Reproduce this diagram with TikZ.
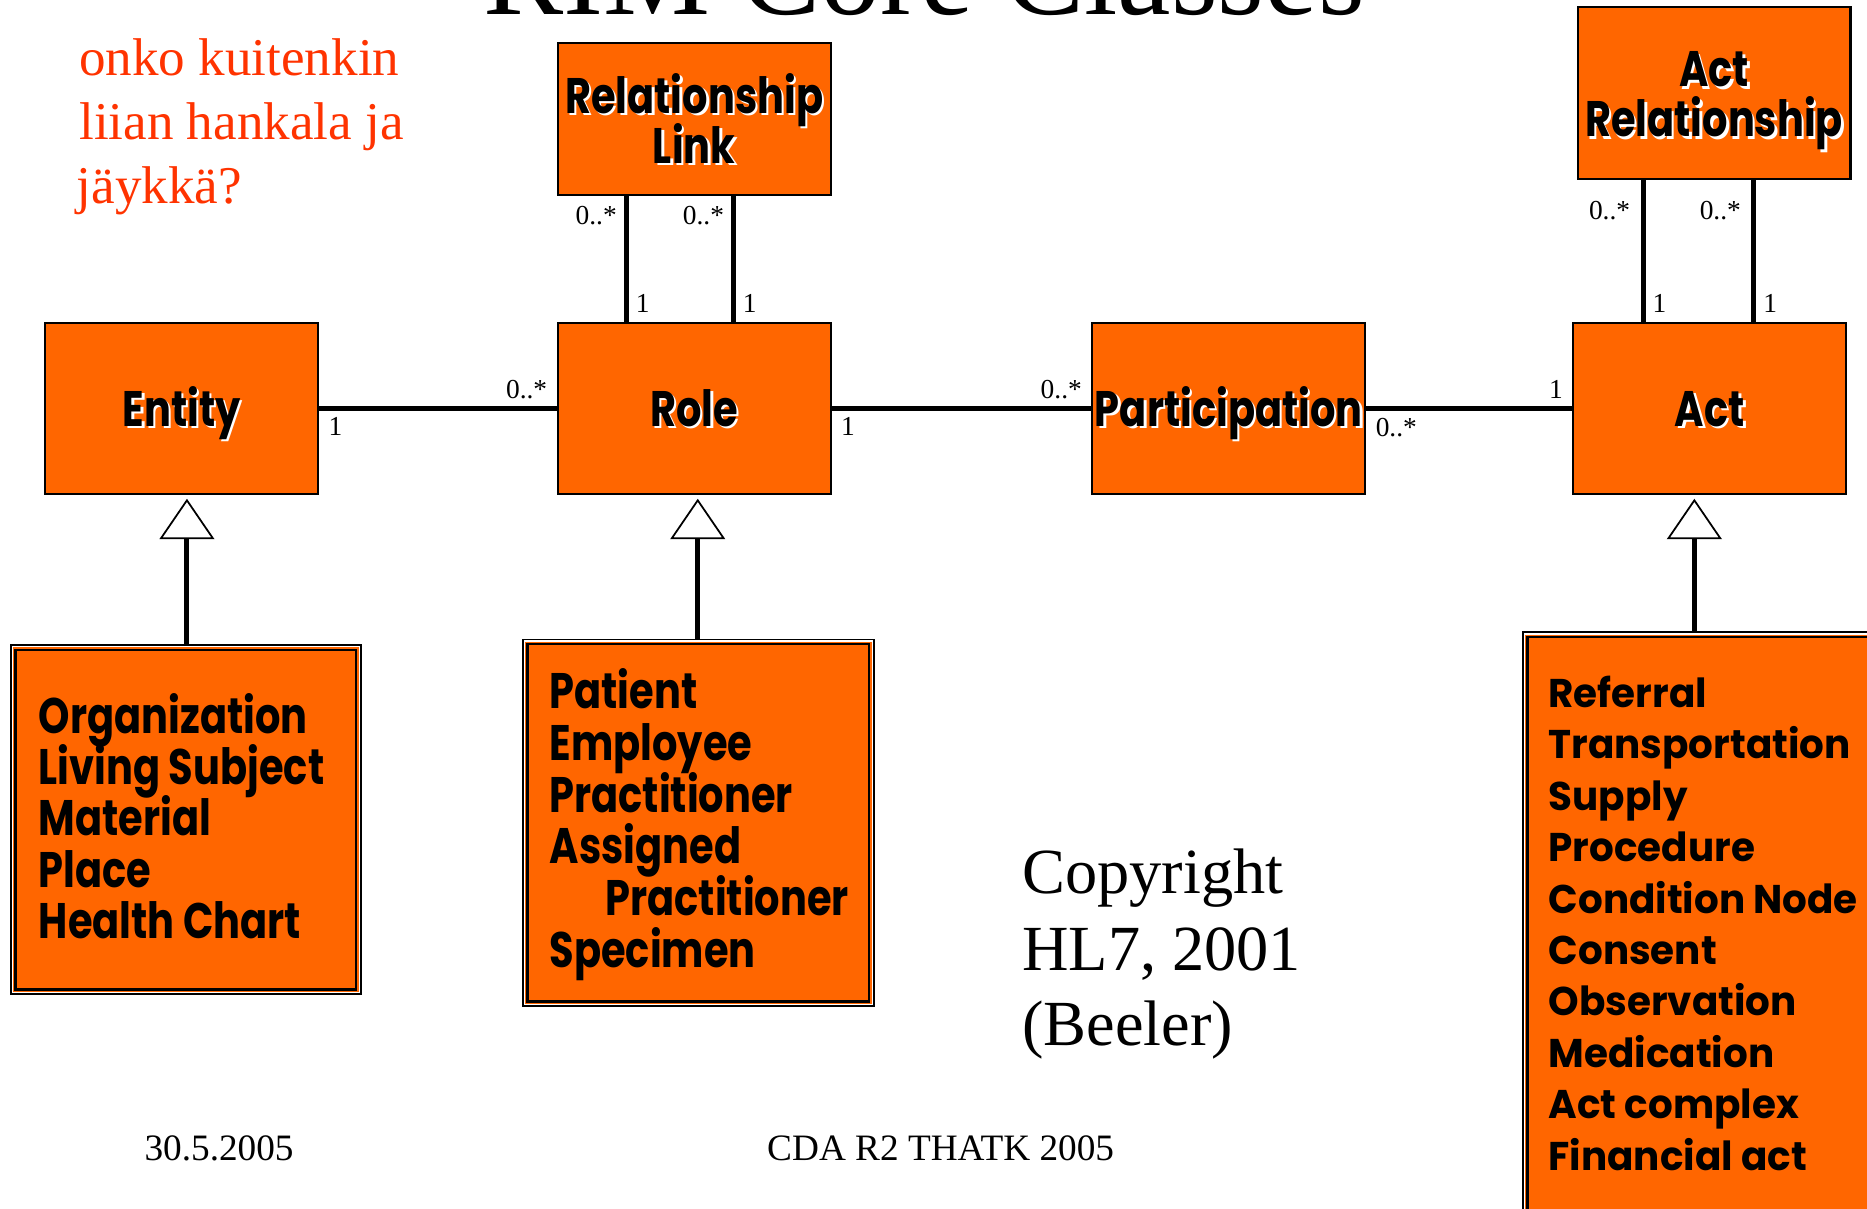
\documentclass[tikz,border=0pt]{standalone}
\usepackage{fontspec}
\setmainfont{Liberation Serif}
\newfontfamily\cartoonfont{Poppins}[FakeStretch=0.8]
\newfontfamily\cartoonwide{Poppins}[FakeStretch=0.97]
\usetikzlibrary{arrows.meta}
\definecolor{hlorange}{HTML}{FF6600}
\definecolor{notered}{HTML}{FF3300}
% text with a small white drop shadow
\newcommand\shadowed[1]{\makebox[0pt][l]{\hspace{0.7pt}\raisebox{-0.7pt}{\color{white}#1}}#1}
% inner white and black frame of a subclass box
\newcommand\innerframe[1]{%
  \draw[white,line width=0.4pt] ([shift={(0.7pt,-0.7pt)}]#1.north west) rectangle ([shift={(-0.7pt,0.7pt)}]#1.south east);
  \draw[black,line width=0.7pt] ([shift={(1.6pt,-1.6pt)}]#1.north west) rectangle ([shift={(-1.6pt,1.6pt)}]#1.south east);}

\begin{document}
\begin{tikzpicture}[x=0.011907cm, y=-0.011907cm,
  classbox/.style={draw=black, line width=0.6pt, fill=hlorange, inner sep=0pt,
    minimum width=77.6pt, minimum height=48.8pt},
  classname/.style={inner sep=0pt, font=\cartoonfont\bfseries\fontsize{14.2}{14.2}\selectfont},
  subbox/.style={draw=black, line width=0.5pt, fill=hlorange, inner sep=0pt},
  listitem/.style={anchor=base west, inner sep=0pt,
    font=\cartoonfont\bfseries\fontsize{14.2}{14.6}\selectfont},
  widelist/.style={anchor=base west, inner sep=0pt,
    font=\cartoonwide\bfseries\fontsize{11.4}{14.6}\selectfont},
  assoc/.style={line width=1.4pt},
  mult/.style={font=\fontsize{7.8}{8}\selectfont, inner sep=2pt},
  gen/.style={line width=1.4pt, shorten >=1pt,
    -{Triangle[fill=white, line width=0.5pt, length=11.5pt, width=15.6pt]}},
  serifnote/.style={anchor=base west, inner sep=0pt},
]
\useasboundingbox (0,0) rectangle (1568,1015);
\clip (0,0) rectangle (1568,1015);

% heading (runs off the top edge)
\node[anchor=base, inner sep=0pt, font=\fontsize{34.2}{40}\selectfont] (title) at (776,12) {RIM Core Classes};

% remark in red
\begin{scope}[every node/.style={serifnote, text=notered, font=\fontsize{15.1}{18}\selectfont}]
  \node (note1) at (66,63) {onko kuitenkin};
  \node (note2) at (66,117) {liian hankala ja};
  \node (note3) at (64,171) {jäykkä?};
\end{scope}

% core classes
\node[classbox] (entity) at (152.5,343) {};
\node[classbox] (role) at (583,343) {};
\node[classbox] (part) at (1032,343) {};
\node[classbox] (act) at (1436,343) {};
\node[classbox, minimum height=43.4pt] (rellink) at (583,100) {};
\node[classbox] (actrel) at (1439.5,78) {};

\begin{scope}[every node/.style={classname, anchor=base}]
  \node (entityname) at (152.5,358) {\shadowed{Entity}};
  \node (rolename) at (583,358) {\shadowed{Role}};
  \node (partname) at (1032,358) {\shadowed{Participation}};
  \node (actname) at (1436,358) {\shadowed{Act}};
  \node (rellinkname1) at (583,95) {\shadowed{Relationship}};
  \node (rellinkname2) at (583,137) {\shadowed{Link}};
  \node (actrelname1) at (1439.5,73) {\shadowed{Act}};
  \node (actrelname2) at (1439.5,115) {\shadowed{Relationship}};
\end{scope}

% associations
\draw[assoc] (entity.east) -- node[mult, pos=0, anchor=north west] (m1) {1}
  node[mult, pos=1, anchor=south east] (m2) {0..*} (role.west);
\draw[assoc] (role.east) -- node[mult, pos=0, anchor=north west] (m3) {1}
  node[mult, pos=1, anchor=south east] (m4) {0..*} (part.west);
\draw[assoc] (part.east) -- node[mult, pos=0, anchor=north west] (m5) {0..*}
  node[mult, pos=1, anchor=south east] (m6) {1} (act.west);

\foreach \lx/\k in {526/a, 616/b}{
  \draw[assoc] (rellink.south -| \lx,0) -- node[mult, pos=0, anchor=north east] (rl\k top) {0..*}
    node[mult, pos=1, anchor=south west] (rl\k bot) {1} (role.north -| \lx,0);
}
\foreach \lx/\k in {1380/a, 1473/b}{
  \draw[assoc] (actrel.south -| \lx,0) -- node[mult, pos=0, anchor=north east, yshift=-3.5pt, xshift=-1pt] (ar\k top) {0..*}
    node[mult, pos=1, anchor=south west] (ar\k bot) {1} (act.north -| \lx,0);
}

% specialisation boxes
\node[subbox, minimum width=99.6pt, minimum height=99.3pt] (entsub) at (156,688.5) {};
\innerframe{entsub}
\node[subbox, minimum width=99.9pt, minimum height=104.3pt] (rolesub) at (586.5,691) {};
\innerframe{rolesub}
\node[subbox, minimum width=102pt, minimum height=169pt] (actsub) at (1429.5,780.5) {};
\innerframe{actsub}

\foreach \t [count=\i from 0] in {Organization, Living Subject, Material, Place, Health Chart}
  \node[listitem] (entkind\i) at (32, 616+43*\i) {\t};
\foreach \t/\xx [count=\i from 0] in {Patient/461, Employee/461, Practitioner/461, Assigned/461, Practitioner/508, Specimen/461}
  \node[listitem] (rolekind\i) at (\xx, 595+43.5*\i) {\t};
\foreach \t [count=\i from 0] in {Referral, Transportation, Supply, Procedure, Condition Node, Consent, Observation, Medication, Act complex, Financial act}
  \node[widelist] (actkind\i) at (1300, 594+43.2*\i) {\t};

% generalisation arrows
\draw[gen] (entsub.north -| 157,0) -- (entity.south -| 157,0);
\draw[gen] (rolesub.north -| 586,0) -- (role.south -| 586,0);
\draw[gen] (actsub.north -| 1423,0) -- (act.south -| 1423,0);

% copyright and footer
\begin{scope}[every node/.style={serifnote, font=\fontsize{18.3}{21}\selectfont}]
  \node (copy1) at (858,750) {Copyright};
  \node (copy2) at (858,815) {HL7, 2001};
  \node (copy3) at (858,878) {(Beeler)};
\end{scope}
\node[anchor=base, inner sep=0pt, font=\fontsize{10.6}{12}\selectfont] (date) at (184,975) {30.5.2005};
\node[anchor=base, inner sep=0pt, font=\fontsize{10.6}{12}\selectfont] (footer) at (790,975) {CDA R2 THATK 2005};
\end{tikzpicture}
\end{document}
